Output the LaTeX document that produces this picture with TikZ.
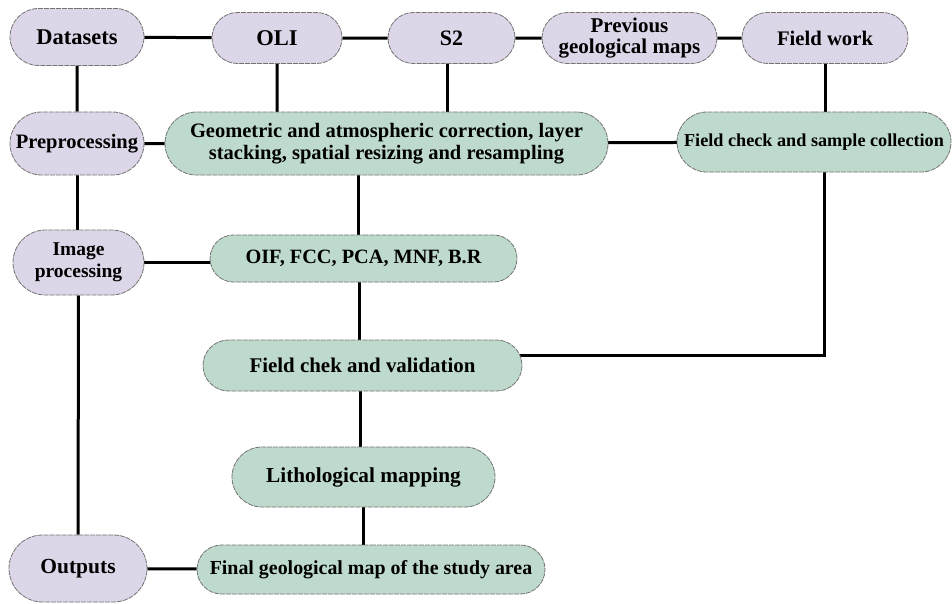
\documentclass[tikz,border=0pt]{standalone}
\usepackage{fontspec}
\setmainfont{Liberation Serif}
\usetikzlibrary{shapes.misc,calc}
\pgfdeclarelayer{background}
\pgfsetlayers{background,main}
\definecolor{lilac}{RGB}{221,214,232}
\definecolor{sage}{RGB}{190,218,204}
\newcommand\boxfont[1]{\fontsize{#1}{21.5}\selectfont\bfseries}
\tikzset{
  box/.style={rounded rectangle, draw=black!55, line width=0.8pt,
    dash pattern=on 5pt off 1pt, inner sep=0pt, align=center,
    font=\boxfont{20.5}},
  pbox/.style={box, fill=lilac},
  gbox/.style={box, fill=sage},
  link/.style={line width=3pt, draw=black}
}
\begin{document}
\begin{tikzpicture}[x=1pt,y=-1pt]
\useasboundingbox (0,0) rectangle (952,603);
% left column / top row (purple)
\node[pbox, minimum width=134pt, minimum height=57pt, font=\boxfont{22.5}] (datasets) at (77,37) {Datasets};
\node[pbox, minimum width=130pt, minimum height=51pt, font=\boxfont{22.5}] (oli) at (277,38) {OLI};
\node[pbox, minimum width=127pt, minimum height=51pt, font=\boxfont{22}] (s2) at (451.5,38) {S2};
\node[pbox, minimum width=175pt, minimum height=51pt, font=\boxfont{21}] (prev) at (629.5,38) {Previous\\geological maps};
\node[pbox, minimum width=166pt, minimum height=51pt, font=\boxfont{20.7}] (fw) at (825,38) {Field work};
\node[pbox, minimum width=134pt, minimum height=63pt] (pre) at (77,143.5) {Preprocessing};
\node[pbox, minimum width=131pt, minimum height=65pt, font=\boxfont{19.5}] (img) at (78.5,262.5) {Image\\processing};
\node[pbox, minimum width=138pt, minimum height=67pt, font=\boxfont{21.5}] (out) at (78,568.5) {Outputs};
% green boxes
\node[gbox, minimum width=443pt, minimum height=63pt] (geo) at (386.5,143.5) {Geometric and atmospheric correction, layer\\stacking, spatial resizing and resampling};
\node[gbox, minimum width=274pt, minimum height=60pt, font=\boxfont{18.2}] (fcs) at (814,142) {Field check and sample collection};
\node[gbox, minimum width=307pt, minimum height=47pt, font=\boxfont{20.3}] (oif) at (363.5,258.5) {OIF, FCC, PCA, MNF, B.R};
\node[gbox, minimum width=319pt, minimum height=51pt, font=\boxfont{20.9}] (fcv) at (362.5,365.5) {Field chek and validation};
\node[gbox, minimum width=263pt, minimum height=60pt, font=\boxfont{21.3}] (lith) at (363.5,477) {Lithological mapping};
\node[gbox, minimum width=348pt, minimum height=49pt, font=\boxfont{19.9}] (fin) at (371,569.5) {Final geological map of the study area};
% connectors
\begin{pgfonlayer}{background}
\draw[link] (datasets) -- (oli);
\draw[link] (oli) -- (s2);
\draw[link] (s2) -- (prev);
\draw[link] (prev) -- (fw);
\draw[link] (datasets) -- (pre);
\draw[link] (pre.center) -- (pre.center |- img.center);
\draw[link] (img) -- (out);
\draw[link] (oli) -- (oli |- geo.center);
\draw[link] ([xshift=-4.5pt]s2.center) -- ([xshift=-4.5pt]s2.center |- geo.center);
\draw[link] (fw.center) -- (fw.center |- fcs.center);
\draw[link] (pre) -- (geo);
\draw[link] (geo.center) -- (fcs.center);
\draw[link] ([xshift=-28.5pt]geo.center) -- ([xshift=-28.5pt]geo.center |- oif.center);
\draw[link] ([xshift=-4.5pt]oif.center) -- ([xshift=-4.5pt]oif.center |- fcv.center);
\draw[link] ([xshift=10pt]fcs.center) |- ([yshift=10.5pt]fcv.center);
\draw[link] ([xshift=-2.5pt]fcv.center) -- ([xshift=-2.5pt]fcv.center |- lith.center);
\draw[link] (lith.center) -- (lith.center |- fin.center);
\draw[link] (img.center) -- (img.center -| oif.center);
\draw[link] (out) -- (fin);
\end{pgfonlayer}
\end{tikzpicture}
\end{document}
